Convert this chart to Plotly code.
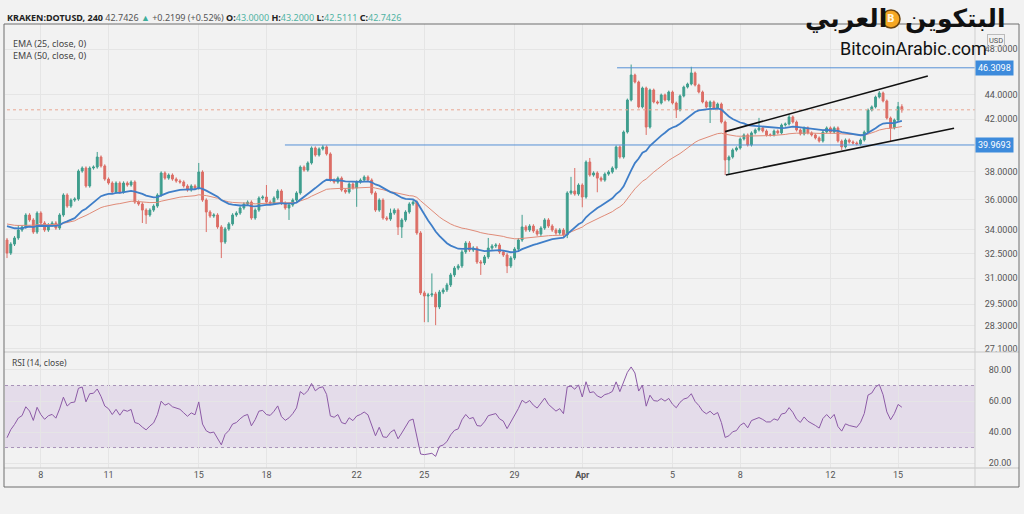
import numpy as np
import pandas as pd
import plotly.graph_objects as go

# ---------------- data ----------------
start_time = "2021-03-06 12:00"
bar_hours = 4
first_open = 33.34

closes = [
    32.52, 33.08, 33.47, 33.98, 34.18, 34.97, 34.64, 33.85, 35.10, 34.44,
    33.98, 34.31, 34.44, 34.11, 34.97, 36.33, 35.57, 35.98, 36.05, 38.03,
    38.25, 36.96, 38.25, 38.32, 39.06, 38.40, 37.45, 37.17, 36.54, 37.17,
    36.54, 37.17, 37.03, 37.24, 35.84, 35.71, 35.30, 34.97, 35.30, 35.57,
    36.33, 37.89, 37.52, 37.74, 37.45, 37.31, 37.24, 36.96, 36.68, 36.96,
    36.82, 37.96, 35.98, 35.17, 34.90, 34.97, 34.18, 33.21, 34.05, 34.38,
    34.97, 35.10, 35.44, 35.71, 35.84, 34.77, 35.30, 36.12, 36.19, 35.84,
    35.77, 36.12, 36.61, 35.77, 35.44, 35.64, 35.98, 36.47, 38.32, 38.10,
    38.62, 39.74, 39.21, 39.67, 39.82, 39.29, 37.38, 37.24, 37.52, 36.68,
    36.54, 37.10, 36.82, 37.24, 37.38, 37.60, 37.38, 36.47, 35.30, 35.98,
    34.77, 34.70, 35.10, 35.30, 34.18, 34.64, 35.17, 35.71, 35.84, 33.79,
    30.14, 29.96, 30.02, 30.08, 29.34, 30.19, 30.31, 30.60, 31.19, 31.60,
    31.73, 32.59, 33.15, 32.71, 32.83, 31.97, 31.91, 32.28, 32.83, 32.96,
    33.02, 32.59, 32.40, 31.73, 32.21, 32.77, 33.34, 34.18, 33.98, 34.24,
    33.92, 33.72, 34.11, 34.64, 34.24, 33.98, 33.79, 33.98, 33.66, 36.47,
    36.61, 36.40, 37.03, 36.19, 38.69, 37.74, 37.89, 37.52, 37.38, 37.81,
    37.96, 38.25, 39.82, 39.06, 40.97, 43.55, 45.68, 45.07, 42.98, 44.56,
    41.36, 44.39, 43.39, 43.30, 43.97, 43.55, 44.22, 43.30, 42.73, 43.89,
    44.64, 44.90, 45.86, 44.81, 44.22, 43.39, 42.98, 43.39, 42.89, 43.22,
    41.76, 38.84, 39.06, 39.59, 39.74, 40.43, 40.74, 39.97, 40.90, 41.13,
    41.29, 41.05, 40.74, 40.74, 41.05, 40.90, 41.52, 41.60, 42.16, 41.76,
    41.13, 40.82, 41.29, 40.90, 40.74, 40.51, 40.27, 40.97, 41.29, 40.97,
    41.29, 40.27, 39.82, 40.35, 40.20, 40.12, 40.05, 40.35, 40.97, 42.73,
    42.98, 43.80, 44.14, 43.47, 42.08, 41.29, 41.92, 43.00, 42.74,
]

up_wick = [
    0.13, 0.12, 0.12, 0.33, 0.12, 0.12, 0.12, 0.12, 0.12, 0.12,
    0.12, 0.12, 0.12, 0.12, 0.12, 0.12, 0.12, 0.12, 0.12, 0.12,
    0.12, 0.12, 0.12, 0.12, 0.38, 0.12, 0.12, 0.12, 0.12, 0.12,
    0.12, 0.12, 0.12, 0.12, 0.12, 0.12, 0.12, 0.12, 0.12, 0.12,
    0.12, 0.12, 0.12, 0.12, 0.12, 0.12, 0.12, 0.12, 0.12, 0.12,
    0.12, 0.66, 0.12, 0.12, 0.12, 0.12, 0.12, 0.12, 0.12, 0.12,
    0.12, 0.12, 0.12, 0.12, 0.12, 0.12, 0.12, 0.12, 0.12, 0.84,
    0.12, 0.12, 0.12, 0.12, 0.12, 0.12, 0.12, 0.12, 0.12, 0.12,
    0.12, 0.12, 0.12, 0.12, 0.15, 0.12, 0.12, 0.12, 0.12, 0.12,
    0.12, 0.12, 0.12, 0.12, 0.12, 0.12, 0.12, 0.12, 0.12, 0.12,
    0.12, 0.12, 0.30, 0.12, 0.12, 0.12, 0.12, 0.12, 0.12, 0.12,
    0.12, 0.12, 0.12, 1.20, 0.12, 0.12, 0.12, 0.12, 0.12, 0.12,
    0.12, 0.12, 0.12, 0.12, 0.12, 0.12, 0.12, 0.12, 0.64, 0.12,
    0.12, 0.12, 0.12, 0.12, 0.12, 0.12, 0.12, 0.80, 0.12, 0.12,
    0.12, 0.12, 0.12, 0.12, 0.12, 0.12, 0.12, 0.12, 0.12, 0.12,
    1.00, 1.64, 0.12, 0.12, 0.12, 0.30, 0.12, 0.12, 0.12, 0.12,
    0.12, 0.12, 0.12, 0.12, 0.12, 0.12, 0.92, 0.12, 0.12, 0.12,
    0.12, 0.12, 0.12, 0.12, 0.12, 0.12, 0.12, 0.12, 0.12, 0.12,
    0.12, 0.12, 0.54, 0.12, 0.12, 0.12, 0.12, 0.12, 0.12, 0.12,
    0.12, 0.12, 0.12, 0.12, 0.12, 0.12, 0.12, 0.12, 0.12, 0.12,
    0.80, 0.12, 0.12, 0.12, 0.12, 0.12, 0.12, 0.12, 0.24, 0.12,
    0.12, 0.12, 0.12, 0.12, 0.12, 0.12, 0.12, 0.12, 0.12, 0.12,
    0.12, 0.12, 0.12, 0.12, 0.12, 0.12, 0.12, 0.12, 0.12, 0.12,
    0.12, 0.12, 0.16, 0.12, 0.12, 0.12, 0.12, 0.39, 0.20,
]

dn_wick = [
    0.31, 0.12, 0.12, 0.12, 0.12, 0.12, 0.12, 0.12, 0.12, 0.12,
    0.12, 0.12, 0.12, 0.12, 0.12, 0.12, 0.12, 0.12, 0.12, 0.12,
    0.12, 0.12, 0.12, 0.12, 0.12, 0.12, 0.12, 0.12, 0.12, 0.12,
    0.12, 0.12, 0.12, 0.12, 0.12, 0.12, 0.86, 0.59, 0.12, 0.12,
    0.12, 0.12, 0.12, 0.12, 0.12, 0.12, 0.12, 0.12, 0.12, 0.12,
    0.12, 0.12, 0.12, 1.32, 0.12, 0.12, 0.12, 1.00, 0.12, 0.12,
    0.12, 0.12, 0.12, 0.12, 0.12, 0.12, 0.12, 0.12, 0.12, 0.12,
    0.12, 0.12, 0.12, 0.12, 0.12, 0.80, 0.12, 0.12, 0.12, 0.12,
    0.12, 0.12, 0.12, 0.12, 0.12, 0.12, 0.12, 0.12, 0.12, 0.12,
    0.12, 0.12, 0.12, 1.30, 0.12, 0.12, 0.12, 0.12, 0.12, 0.12,
    0.12, 0.12, 0.12, 0.12, 0.52, 0.71, 0.12, 0.12, 0.12, 0.12,
    0.12, 1.46, 1.46, 0.12, 1.00, 0.12, 0.12, 0.12, 0.12, 0.12,
    0.12, 0.12, 0.12, 0.12, 0.12, 0.12, 0.72, 0.12, 0.12, 0.12,
    0.12, 0.12, 0.12, 0.43, 0.12, 0.12, 0.12, 0.12, 0.12, 0.12,
    0.12, 0.12, 0.12, 0.12, 0.12, 0.12, 0.12, 0.12, 0.12, 0.20,
    0.12, 0.12, 0.12, 0.70, 0.12, 0.12, 0.12, 1.00, 0.12, 0.12,
    0.12, 0.12, 0.12, 0.12, 0.12, 0.12, 0.12, 0.12, 0.12, 0.12,
    0.62, 0.12, 0.12, 0.12, 0.12, 0.12, 0.12, 0.12, 0.65, 0.12,
    0.12, 0.12, 0.12, 0.12, 0.12, 0.12, 0.12, 1.30, 0.12, 0.12,
    0.12, 1.10, 1.10, 0.12, 0.12, 0.12, 0.12, 0.12, 0.12, 0.12,
    0.12, 0.12, 0.12, 0.12, 0.12, 0.12, 0.12, 0.12, 0.12, 0.12,
    0.12, 0.12, 0.12, 0.12, 0.12, 0.12, 0.12, 0.12, 0.12, 0.12,
    0.12, 0.12, 0.23, 0.12, 0.12, 0.12, 0.12, 0.12, 0.12, 0.12,
    0.12, 0.12, 0.12, 0.12, 0.12, 1.10, 0.12, 0.12, 0.23,
]

ema_fast_period, ema_slow_period = 25, 50
ema_fast_seed, ema_slow_seed = 34.38, 34.45
rsi_period = 14
rsi_seed_gain, rsi_seed_loss = 0.19, 0.27

price_ticks = [48.0, 44.0, 42.0, 38.0, 36.0, 34.0, 32.5, 31.0, 29.5, 28.3, 27.1]
rsi_ticks = [20, 40, 60, 80]
date_ticks = ["2021-03-08", "2021-03-11", "2021-03-15", "2021-03-18", "2021-03-22",
              "2021-03-25", "2021-03-29", "2021-04-01", "2021-04-05", "2021-04-08",
              "2021-04-12", "2021-04-15"]
date_labels = ["8", "11", "15", "18", "22", "25", "29", "<b>Apr</b>", "5", "8", "12", "15"]

level_high, level_high_from = 46.3098, "2021-04-02 13:00"
level_mid, level_mid_from = 39.9693, "2021-03-18 19:40"
level_to = "2021-04-20 00:00"
last_price = 42.7426
channel_upper_t = ["2021-04-07 08:00", "2021-04-16 07:36"]
channel_upper_p = [41.0, 45.6]
channel_lower_t = ["2021-04-07 08:45", "2021-04-17 11:30"]
channel_lower_p = [37.74, 41.26]

x_range = ["2021-03-06 09:52", "2021-04-18 09:48"]

# ---------------- derived ----------------
n = len(closes)
dates = pd.date_range(start_time, periods=n, freq=f"{bar_hours}h")
opens = [first_open] + closes[:-1]
highs = [max(o, c) + u for o, c, u in zip(opens, closes, up_wick)]
lows = [min(o, c) - d for o, c, d in zip(opens, closes, dn_wick)]


def ema(values, period, seed):
    a = 2.0 / (period + 1)
    out, e = [], seed
    for v in values:
        e = a * v + (1 - a) * e
        out.append(e)
    return out


ema_fast = ema(closes, ema_fast_period, ema_fast_seed)
ema_slow = ema(closes, ema_slow_period, ema_slow_seed)

rsi = []
ag, al = rsi_seed_gain, rsi_seed_loss
prev = first_open
for c in closes:
    ch = c - prev
    ag = (ag * (rsi_period - 1) + max(ch, 0)) / rsi_period
    al = (al * (rsi_period - 1) + max(-ch, 0)) / rsi_period
    rsi.append(100 - 100 / (1 + ag / al))
    prev = c

# ---------------- styling ----------------
BG = "#f2f2f2"
GRID = "#e5e5e5"
GREEN = "#3f9e8e"
RED = "#dc6e66"
BLUE_EMA = "#3f7ec8"
RED_EMA = "#e08b78"
LEVEL = "#5690d6"
FONT = "Noto Sans"
AXFONT = "Roboto"

W, H = 1024, 514
ML, MR, MT, MB = 5, 49, 24, 28
PW, PH = W - ML - MR, H - MT - MB


def px(x):
    return (x - ML) / PW


def py(y):
    return (H - MB - y) / PH


fig = go.Figure()

fig.add_trace(go.Scatter(x=[dates[0], level_to], y=[last_price, last_price], mode="lines",
                         line=dict(color="#e9a792", width=1, dash="dot"),
                         xaxis="x", yaxis="y", hoverinfo="skip", showlegend=False))
fig.add_trace(go.Scatter(x=[level_high_from, level_to], y=[level_high, level_high], mode="lines",
                         line=dict(color=LEVEL, width=1), xaxis="x", yaxis="y", showlegend=False))
fig.add_trace(go.Scatter(x=[level_mid_from, level_to], y=[level_mid, level_mid], mode="lines",
                         line=dict(color=LEVEL, width=1), xaxis="x", yaxis="y", showlegend=False))
fig.add_trace(go.Scatter(x=dates, y=ema_slow, mode="lines", line=dict(color=RED_EMA, width=1),
                         xaxis="x", yaxis="y", showlegend=False))
fig.add_trace(go.Scatter(x=dates, y=ema_fast, mode="lines", line=dict(color=BLUE_EMA, width=1.8),
                         xaxis="x", yaxis="y", showlegend=False))
fig.add_trace(go.Candlestick(
    x=dates, open=opens, high=highs, low=lows, close=closes,
    increasing=dict(line=dict(color=GREEN, width=1), fillcolor=GREEN),
    decreasing=dict(line=dict(color=RED, width=1), fillcolor=RED),
    whiskerwidth=0, xaxis="x", yaxis="y", showlegend=False))
fig.add_trace(go.Scatter(x=channel_upper_t, y=channel_upper_p, mode="lines",
                         line=dict(color="#111111", width=1.6), xaxis="x", yaxis="y", showlegend=False))
fig.add_trace(go.Scatter(x=channel_lower_t, y=channel_lower_p, mode="lines",
                         line=dict(color="#111111", width=1.6), xaxis="x", yaxis="y", showlegend=False))
fig.add_trace(go.Scatter(x=dates, y=rsi, mode="lines", line=dict(color="#8c5aa6", width=1),
                         xaxis="x2", yaxis="y2", showlegend=False))

tickfont = dict(family=AXFONT, size=9, color="#555555")

shapes = [
    # RSI band
    dict(type="rect", xref="paper", yref="y2", x0=0, x1=1, y0=30, y1=70,
         fillcolor="rgba(150, 95, 190, 0.14)", line=dict(width=0), layer="below"),
    dict(type="line", xref="paper", yref="y2", x0=0, x1=1, y0=70, y1=70,
         line=dict(color="#a893b8", width=1, dash="dot"), layer="below"),
    dict(type="line", xref="paper", yref="y2", x0=0, x1=1, y0=30, y1=30,
         line=dict(color="#a893b8", width=1, dash="dot"), layer="below"),
    # pane separators
    dict(type="line", xref="paper", yref="paper", x0=px(4), x1=px(1019), y0=py(352), y1=py(352),
         line=dict(color="#c6c6c6", width=1)),
    dict(type="line", xref="paper", yref="paper", x0=px(4), x1=px(1019), y0=py(468), y1=py(468),
         line=dict(color="#c6c6c6", width=1)),
    dict(type="line", xref="paper", yref="paper", x0=px(975), x1=px(975), y0=py(24), y1=py(486),
         line=dict(color="#cfcfcf", width=1)),
    # outer frame
    dict(type="rect", xref="paper", yref="paper", x0=px(4), x1=px(1019), y0=py(487), y1=py(24),
         line=dict(color="#6e6e6e", width=1)),
    # logo coin
    dict(type="circle", xref="paper", yref="paper", x0=px(882), x1=px(900), y0=py(28), y1=py(10),
         fillcolor="#f5a623", line=dict(color="#6b4410", width=1.5)),
]

hdr = ('<b>KRAKEN:DOTUSD, 240</b> <span style="color:#555">42.7426</span> '
       '<span style="color:#3fae9c">▲</span> <span style="color:#555">+0.2199 (+0.52%)</span> '
       '<b>O:</b><span style="color:#4fb3a3">43.0000</span> '
       '<b>H:</b><span style="color:#4fb3a3">43.2000</span> '
       '<b>L:</b><span style="color:#4fb3a3">42.5111</span> '
       '<b>C:</b><span style="color:#4fb3a3">42.7426</span>')

annotations = [
    dict(text=hdr, xref="paper", yref="paper", x=px(5), y=py(17), xanchor="left", yanchor="middle",
         showarrow=False, font=dict(family=FONT, size=9, color="#222222")),
    dict(text="EMA (25, close, 0)", xref="paper", yref="paper", x=px(11), y=py(44),
         xanchor="left", yanchor="middle", showarrow=False, font=dict(family=FONT, size=9, color="#444444")),
    dict(text="EMA (50, close, 0)", xref="paper", yref="paper", x=px(11), y=py(56),
         xanchor="left", yanchor="middle", showarrow=False, font=dict(family=FONT, size=9, color="#444444")),
    dict(text="RSI (14, close)", xref="paper", yref="paper", x=px(10), y=py(362),
         xanchor="left", yanchor="middle", showarrow=False, font=dict(family=FONT, size=8.5, color="#444444")),
    dict(text="USD", xref="paper", yref="paper", x=px(996), y=py(40), xanchor="center", yanchor="middle",
         showarrow=False, font=dict(family=AXFONT, size=7.5, color="#555555"),
         bordercolor="#bbbbbb", borderwidth=1, borderpad=1),
    dict(text=f"{level_high:.4f}", xref="paper", yref="y", x=1.0, y=np.log10(level_high),
         xanchor="left", yanchor="middle", showarrow=False, bgcolor="#3d8bdc", borderpad=2,
         font=dict(family=AXFONT, size=9, color="#ffffff")),
    dict(text=f"{level_mid:.4f}", xref="paper", yref="y", x=1.0, y=np.log10(level_mid),
         xanchor="left", yanchor="middle", showarrow=False, bgcolor="#3d8bdc", borderpad=2,
         font=dict(family=AXFONT, size=9, color="#ffffff")),
    # watermark
    dict(text="<b>البتكوين</b>", xref="paper", yref="paper", x=px(955), y=py(19), xanchor="center",
         yanchor="middle", showarrow=False, font=dict(family="DejaVu Sans", size=25, color="#111111")),
    dict(text="<b>العربي</b>", xref="paper", yref="paper", x=px(846), y=py(19), xanchor="center",
         yanchor="middle", showarrow=False, font=dict(family="DejaVu Sans", size=25, color="#111111")),
    dict(text="<b>B</b>", xref="paper", yref="paper", x=px(891), y=py(19), xanchor="center",
         yanchor="middle", showarrow=False, font=dict(family="DejaVu Sans", size=10, color="#fff6e0")),
    dict(text="BitcoinArabic.com", xref="paper", yref="paper", x=px(913), y=py(48), xanchor="center",
         yanchor="middle", showarrow=False, font=dict(family="Roboto", size=18, color="#111111")),
]

fig.update_layout(
    width=W, height=H,
    margin=dict(l=ML, r=MR, t=MT, b=MB),
    paper_bgcolor=BG, plot_bgcolor=BG,
    showlegend=False,
    font=dict(family=FONT),
    xaxis=dict(domain=[0, 1], anchor="y", type="date", range=x_range,
               rangeslider=dict(visible=False), showticklabels=False,
               tickvals=date_ticks, showgrid=True, gridcolor=GRID, zeroline=False, ticks=""),
    xaxis2=dict(domain=[0, 1], anchor="y2", type="date", range=x_range, matches="x",
                tickvals=date_ticks, ticktext=date_labels, tickfont=tickfont,
                showgrid=True, gridcolor=GRID, zeroline=False, ticks=""),
    yaxis=dict(domain=[py(352), 1], type="log",
               range=[np.log10(42) - 233 / 1206.6, np.log10(42) + 95 / 1206.6],
               side="right", tickvals=price_ticks, ticktext=[f"{v:.4f}" for v in price_ticks],
               tickfont=tickfont, showgrid=True, gridcolor=GRID, zeroline=False,
               ticks="outside", ticklen=7, tickcolor=BG),
    yaxis2=dict(domain=[py(468), py(352)], range=[16.8, 91.6], side="right",
                tickvals=rsi_ticks, ticktext=[f"{v:.2f}" for v in rsi_ticks],
                tickfont=tickfont, showgrid=True, gridcolor=GRID, zeroline=False,
                ticks="outside", ticklen=11, tickcolor=BG),
    shapes=shapes,
    annotations=annotations,
)

fig.write_html("out.html", config={"displayModeBar": False},
               post_script="document.body.style.margin='0px';document.body.style.overflow='hidden';")
